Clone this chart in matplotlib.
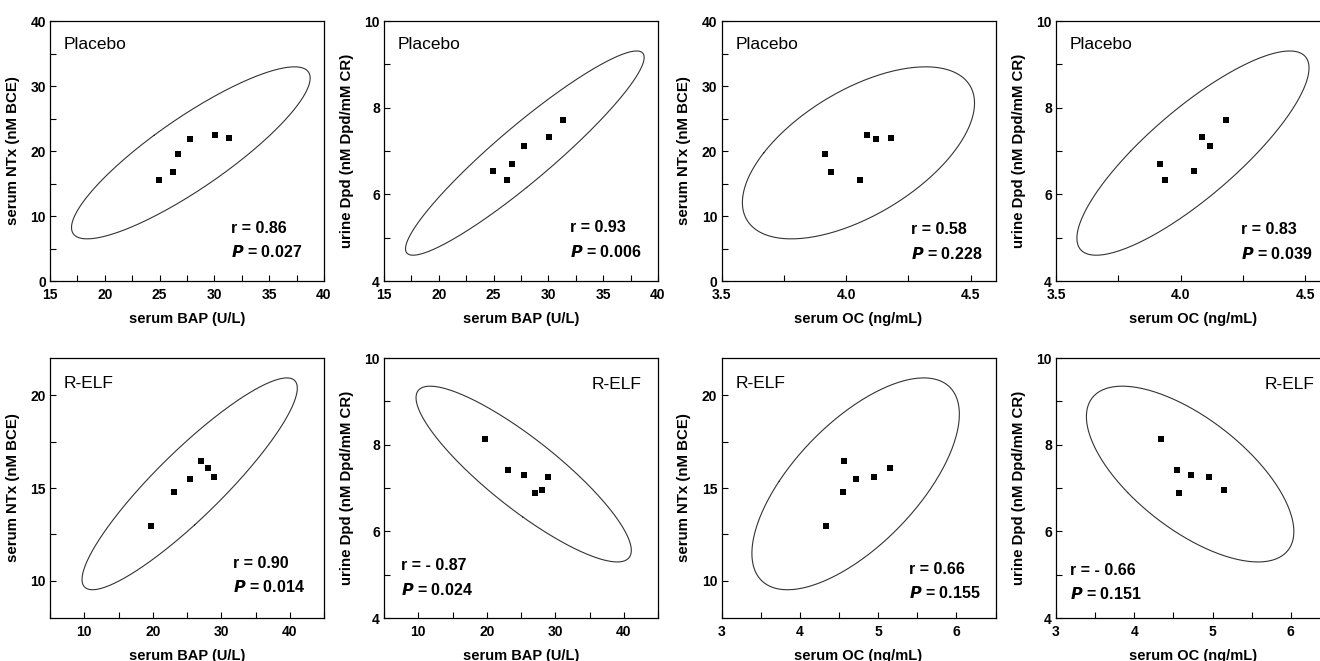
import numpy as np
import matplotlib
matplotlib.use("Agg")
import matplotlib.pyplot as plt
from matplotlib.ticker import MultipleLocator, FormatStrFormatter

plt.rcParams['font.family'] = ['Liberation Sans', 'DejaVu Sans']
plt.rcParams['font.weight'] = 'bold'
plt.rcParams['axes.labelweight'] = 'bold'

# Placebo group (6 subjects)
plc_bap = np.array([24.95, 26.25, 26.7, 27.8, 30.1, 31.3])
plc_oc = np.array([4.056, 3.939, 3.917, 4.12, 4.085, 4.182])
plc_ntx = np.array([15.6, 16.8, 19.5, 21.9, 22.5, 22.0])
plc_dpd = np.array([6.54, 6.32, 6.70, 7.12, 7.32, 7.71])

# R-ELF group (6 subjects)
elf_bap = np.array([19.7, 23.07, 25.4, 27.07, 28.1, 29.0])
elf_oc = np.array([4.34, 4.55, 4.72, 4.57, 5.15, 4.95])
elf_ntx = np.array([12.93, 14.76, 15.48, 16.48, 16.1, 15.6])
elf_dpd = np.array([8.14, 7.41, 7.29, 6.88, 6.95, 7.26])

r_text = ["r = 0.86", "r = 0.93", "r = 0.58", "r = 0.83",
          "r = 0.90", "r = - 0.87", "r = 0.66", "r = - 0.66"]
p_text = ["0.027", "0.006", "0.228", "0.039",
          "0.014", "0.024", "0.155", "0.151"]

lab_bap = "serum BAP (U/L)"
lab_oc = "serum OC (ng/mL)"
lab_ntx = "serum NTx (nM BCE)"
lab_dpd = "urine Dpd (nM Dpd/mM CR)"


def conf_ellipse(ax, x, y):
    # 95% prediction ellipse (F-distribution with 2 and n-2 dof)
    n = len(x)
    f = (n - 2) / 2.0 * (0.05 ** (-2.0 / (n - 2)) - 1)
    k = np.sqrt(2.0 * (n - 1) * (n + 1) / (n * (n - 2)) * f)
    vals, vecs = np.linalg.eigh(np.cov(x, y))
    t = np.linspace(0, 2 * np.pi, 300)
    circ = np.array([np.cos(t), np.sin(t)])
    pts = vecs @ (k * np.sqrt(vals)[:, None] * circ)
    ax.plot(pts[0] + x.mean(), pts[1] + y.mean(), color='#333333', lw=0.8)


fig = plt.figure(figsize=(13.2, 6.61), dpi=100)
W, H = 1320.0, 661.0
lefts = [50, 384, 721.5, 1056]
aw = 274


def panel(col, top, x, y, xlab, ylab, xlim, ylim, xmaj, ymaj, xfmt,
          group, gpos, rpos, r, p, ms=3.8):
    ax = fig.add_axes([lefts[col] / W, (H - top - 260) / H, aw / W, 260 / H])
    conf_ellipse(ax, x, y)
    ax.plot(x, y, 's', color='k', ms=ms, mew=0)
    ax.set_xlim(xlim)
    ax.set_ylim(ylim)
    ax.xaxis.set_major_locator(MultipleLocator(xmaj))
    ax.xaxis.set_minor_locator(MultipleLocator(xmaj / 2))
    ax.yaxis.set_major_locator(MultipleLocator(ymaj))
    ax.yaxis.set_minor_locator(MultipleLocator(ymaj / 2))
    ax.xaxis.set_major_formatter(FormatStrFormatter(xfmt))
    ax.tick_params(which='both', direction='in', top=False, right=False,
                   length=4, width=0.8, labelsize=10)
    ax.tick_params(axis='x', pad=5)
    ax.tick_params(axis='y', pad=3)
    for s in ax.spines.values():
        s.set_linewidth(0.9)
    ax.set_xlabel(xlab, fontsize=10.5, fontweight='bold')
    ax.set_ylabel(ylab, fontsize=10.8, fontweight='bold')
    ax.xaxis.set_label_coords(0.5, -0.12)
    ax.yaxis.set_label_coords(-0.11, 0.5)
    ax.text(gpos[0], gpos[1], group, transform=ax.transAxes, fontsize=12.5,
            fontweight='normal', ha=gpos[2], va='center')
    ax.text(rpos[0], rpos[1], r, transform=ax.transAxes, fontsize=11.5,
            ha='left', va='baseline')
    ax.text(rpos[0], rpos[1] - 0.094, r'$\mathbfit{P}$ = ' + p,
            transform=ax.transAxes, fontsize=11.5, ha='left', va='baseline')
    return ax


# top row: Placebo
panel(0, 21, plc_bap, plc_ntx, lab_bap, lab_ntx, (15, 40), (0, 40), 5, 10, '%g',
      "Placebo", (0.05, 0.91, 'left'), (0.66, 0.185), r_text[0], p_text[0], ms=5)
panel(1, 21, plc_bap, plc_dpd, lab_bap, lab_dpd, (15, 40), (4, 10), 5, 2, '%g',
      "Placebo", (0.05, 0.91, 'left'), (0.68, 0.187), r_text[1], p_text[1])
panel(2, 21, plc_oc, plc_ntx, lab_oc, lab_ntx, (3.5, 4.6), (0, 40), 0.5, 10, '%.1f',
      "Placebo", (0.05, 0.91, 'left'), (0.69, 0.18), r_text[2], p_text[2])
panel(3, 21, plc_oc, plc_dpd, lab_oc, lab_dpd, (3.5, 4.6), (4, 10), 0.5, 2, '%.1f',
      "Placebo", (0.05, 0.91, 'left'), (0.675, 0.18), r_text[3], p_text[3])

# bottom row: R-ELF
panel(0, 358, elf_bap, elf_ntx, lab_bap, lab_ntx, (5, 45), (8, 22), 10, 5, '%g',
      "R-ELF", (0.05, 0.90, 'left'), (0.667, 0.193), r_text[4], p_text[4])
panel(1, 358, elf_bap, elf_dpd, lab_bap, lab_dpd, (5, 45), (4, 10), 10, 2, '%g',
      "R-ELF", (0.94, 0.897, 'right'), (0.063, 0.183), r_text[5], p_text[5])
panel(2, 358, elf_oc, elf_ntx, lab_oc, lab_ntx, (3, 6.5), (8, 22), 1, 5, '%g',
      "R-ELF", (0.051, 0.90, 'left'), (0.684, 0.17), r_text[6], p_text[6])
panel(3, 358, elf_oc, elf_dpd, lab_oc, lab_dpd, (3, 6.5), (4, 10), 1, 2, '%g',
      "R-ELF", (0.945, 0.897, 'right'), (0.052, 0.167), r_text[7], p_text[7])

fig.savefig("out.png", dpi=100, facecolor='white')
